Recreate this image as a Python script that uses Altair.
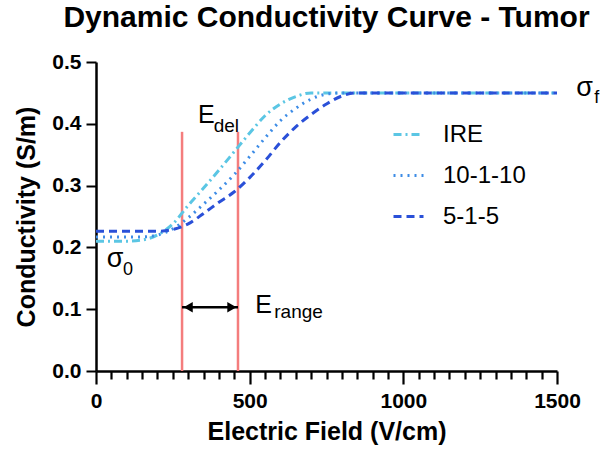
import altair as alt
import pandas as pd

FONT = "Liberation Sans"

# ---- data ----
series_names = ["IRE", "10-1-10", "5-1-5"]
colors = ["#5BC6E4", "#3D8CE6", "#2A50D8"]
dashes = [[8, 4, 2, 4], [2, 5], [8, 5]]

ire_e = [0, 100, 150, 200, 250, 300, 350, 400, 450, 500, 550, 600, 650, 700, 750, 800, 1500]
ire_s = [0.210, 0.210, 0.212, 0.220, 0.238, 0.268, 0.296, 0.325, 0.355, 0.385, 0.413, 0.432, 0.444, 0.450, 0.450, 0.450, 0.450]

r10_e = [0, 150, 200, 250, 300, 350, 400, 450, 500, 550, 600, 650, 700, 750, 800, 1500]
r10_s = [0.217, 0.217, 0.220, 0.230, 0.248, 0.270, 0.293, 0.318, 0.347, 0.377, 0.405, 0.425, 0.440, 0.448, 0.450, 0.450]

r5_e = [0, 200, 250, 300, 350, 400, 450, 500, 550, 600, 650, 700, 750, 800, 850, 1500]
r5_s = [0.226, 0.226, 0.229, 0.238, 0.255, 0.273, 0.290, 0.313, 0.340, 0.370, 0.395, 0.415, 0.432, 0.445, 0.450, 0.450]

e_lines = [280, 462]          # red vertical markers (V/cm)
e_line_top = 0.387            # height of red markers (S/m)
arrow_y = 0.103
x_ticks = list(range(0, 1501, 50))   # major every 500, minor every 50
y_ticks = [0.0, 0.1, 0.2, 0.3, 0.4, 0.5]

rows = []
for name, es, ss in [("IRE", ire_e, ire_s), ("10-1-10", r10_e, r10_s), ("5-1-5", r5_e, r5_s)]:
    for e, s in zip(es, ss):
        rows.append({"E": e, "sigma": s, "series": name})
df = pd.DataFrame(rows)

PLOT_W, PLOT_H = 461, 309
xscale = alt.Scale(domain=[0, 1500], nice=False, zero=False)
yscale = alt.Scale(domain=[0, 0.5], nice=False)

MAJOR = "datum.value % 500 === 0"
x_axis = alt.Axis(values=x_ticks, format="d", title="Electric Field (V/cm)", orient="bottom",
                  labelExpr=f"{MAJOR} ? datum.label : ''", labelOverlap=False,
                  tickSize={"condition": {"test": MAJOR, "value": 13}, "value": 8},
                  tickWidth=2.2, domainWidth=2.5, domainColor="black", tickColor="black",
                  labelFont=FONT, labelFontSize=21, labelFontWeight="bold", labelColor="black",
                  labelPadding=6, titleFont=FONT, titleFontSize=25, titleFontWeight="bold",
                  titleColor="black", titlePadding=8, grid=False, labelFlush=False)
y_axis = alt.Axis(values=y_ticks, format=".1f", title="Conductivity (S/m)",
                  tickSize=10, tickWidth=2, domainWidth=2.5, domainColor="black", tickColor="black",
                  labelFont=FONT, labelFontSize=21, labelFontWeight="bold", labelColor="black",
                  labelPadding=5, titleFont=FONT, titleFontSize=25, titleFontWeight="bold",
                  titleColor="black", titlePadding=12, grid=False)

leg = dict(title=None, orient="none", legendX=296, legendY=56,
           symbolType="stroke", symbolSize=900, symbolStrokeWidth=3,
           labelFont=FONT, labelFontSize=24, labelColor="black",
           labelOffset=18, rowPadding=12, padding=0)

lines = alt.Chart(df).mark_line(strokeWidth=3, interpolate="monotone", clip=False).encode(
    x=alt.X("E:Q", scale=xscale, axis=x_axis),
    y=alt.Y("sigma:Q", scale=yscale, axis=y_axis),
    color=alt.Color("series:N", sort=series_names,
                    scale=alt.Scale(domain=series_names, range=colors),
                    legend=alt.Legend(**leg)),
    strokeDash=alt.StrokeDash("series:N", sort=series_names,
                              scale=alt.Scale(domain=series_names, range=dashes),
                              legend=alt.Legend(**leg)),
    order=alt.Order("series:N", sort="descending"),
)

red_df = pd.DataFrame({"E": e_lines, "top": [e_line_top] * len(e_lines), "bot": [0.0] * len(e_lines)})
red = alt.Chart(red_df).mark_rule(color="#F47D7D", strokeWidth=2.5).encode(
    x=alt.X("E:Q", axis=x_axis), y=alt.Y("bot:Q", axis=y_axis), y2="top:Q")

arrow_line = alt.Chart(pd.DataFrame({"a": [e_lines[0]], "b": [e_lines[1]], "y": [arrow_y]})).mark_rule(
    color="black", strokeWidth=2.5).encode(
    x=alt.X("a:Q", axis=x_axis), x2="b:Q", y=alt.Y("y:Q", axis=y_axis))
arrow_l = alt.Chart(pd.DataFrame({"E": [e_lines[0] + 20], "y": [arrow_y]})).mark_point(
    shape="triangle-left", filled=True, color="black", size=110, opacity=1).encode(
    x=alt.X("E:Q", axis=x_axis), y=alt.Y("y:Q", axis=y_axis))
arrow_r = alt.Chart(pd.DataFrame({"E": [e_lines[1] - 20], "y": [arrow_y]})).mark_point(
    shape="triangle-right", filled=True, color="black", size=110, opacity=1).encode(
    x=alt.X("E:Q", axis=x_axis), y=alt.Y("y:Q", axis=y_axis))


def label(txt, x, y, size):
    return alt.Chart(pd.DataFrame({"t": [txt], "x": [x], "y": [y]})).mark_text(
        font=FONT, fontSize=size, align="left", baseline="alphabetic", color="black").encode(
        x=alt.X("x:Q", axis=x_axis), y=alt.Y("y:Q", axis=y_axis), text="t:N")


texts = [
    label("E", 332, 0.401, 25), label("del", 383, 0.387, 19),
    label("E", 518, 0.094, 25), label("range", 580, 0.086, 19),
    label("σ", 35, 0.168, 27), label("0", 88, 0.155, 18),
    label("σ", 1563, 0.445, 27), label("f", 1621, 0.433, 18),
]

chart = alt.layer(red, lines, arrow_line, arrow_l, arrow_r, *texts).properties(
    width=PLOT_W, height=PLOT_H,
    title=alt.TitleParams("Dynamic Conductivity Curve - Tumor", font=FONT, fontSize=30,
                          fontWeight="bold", color="black", anchor="middle", offset=18),
    padding={"left": 96, "top": 62, "right": 46, "bottom": 87},
    autosize=alt.AutoSizeParams(type="none"),
).configure(background="white").configure_view(stroke=None).configure_axis(grid=False)

chart.save("out.html", embed_options={"renderer": "svg", "actions": False})
